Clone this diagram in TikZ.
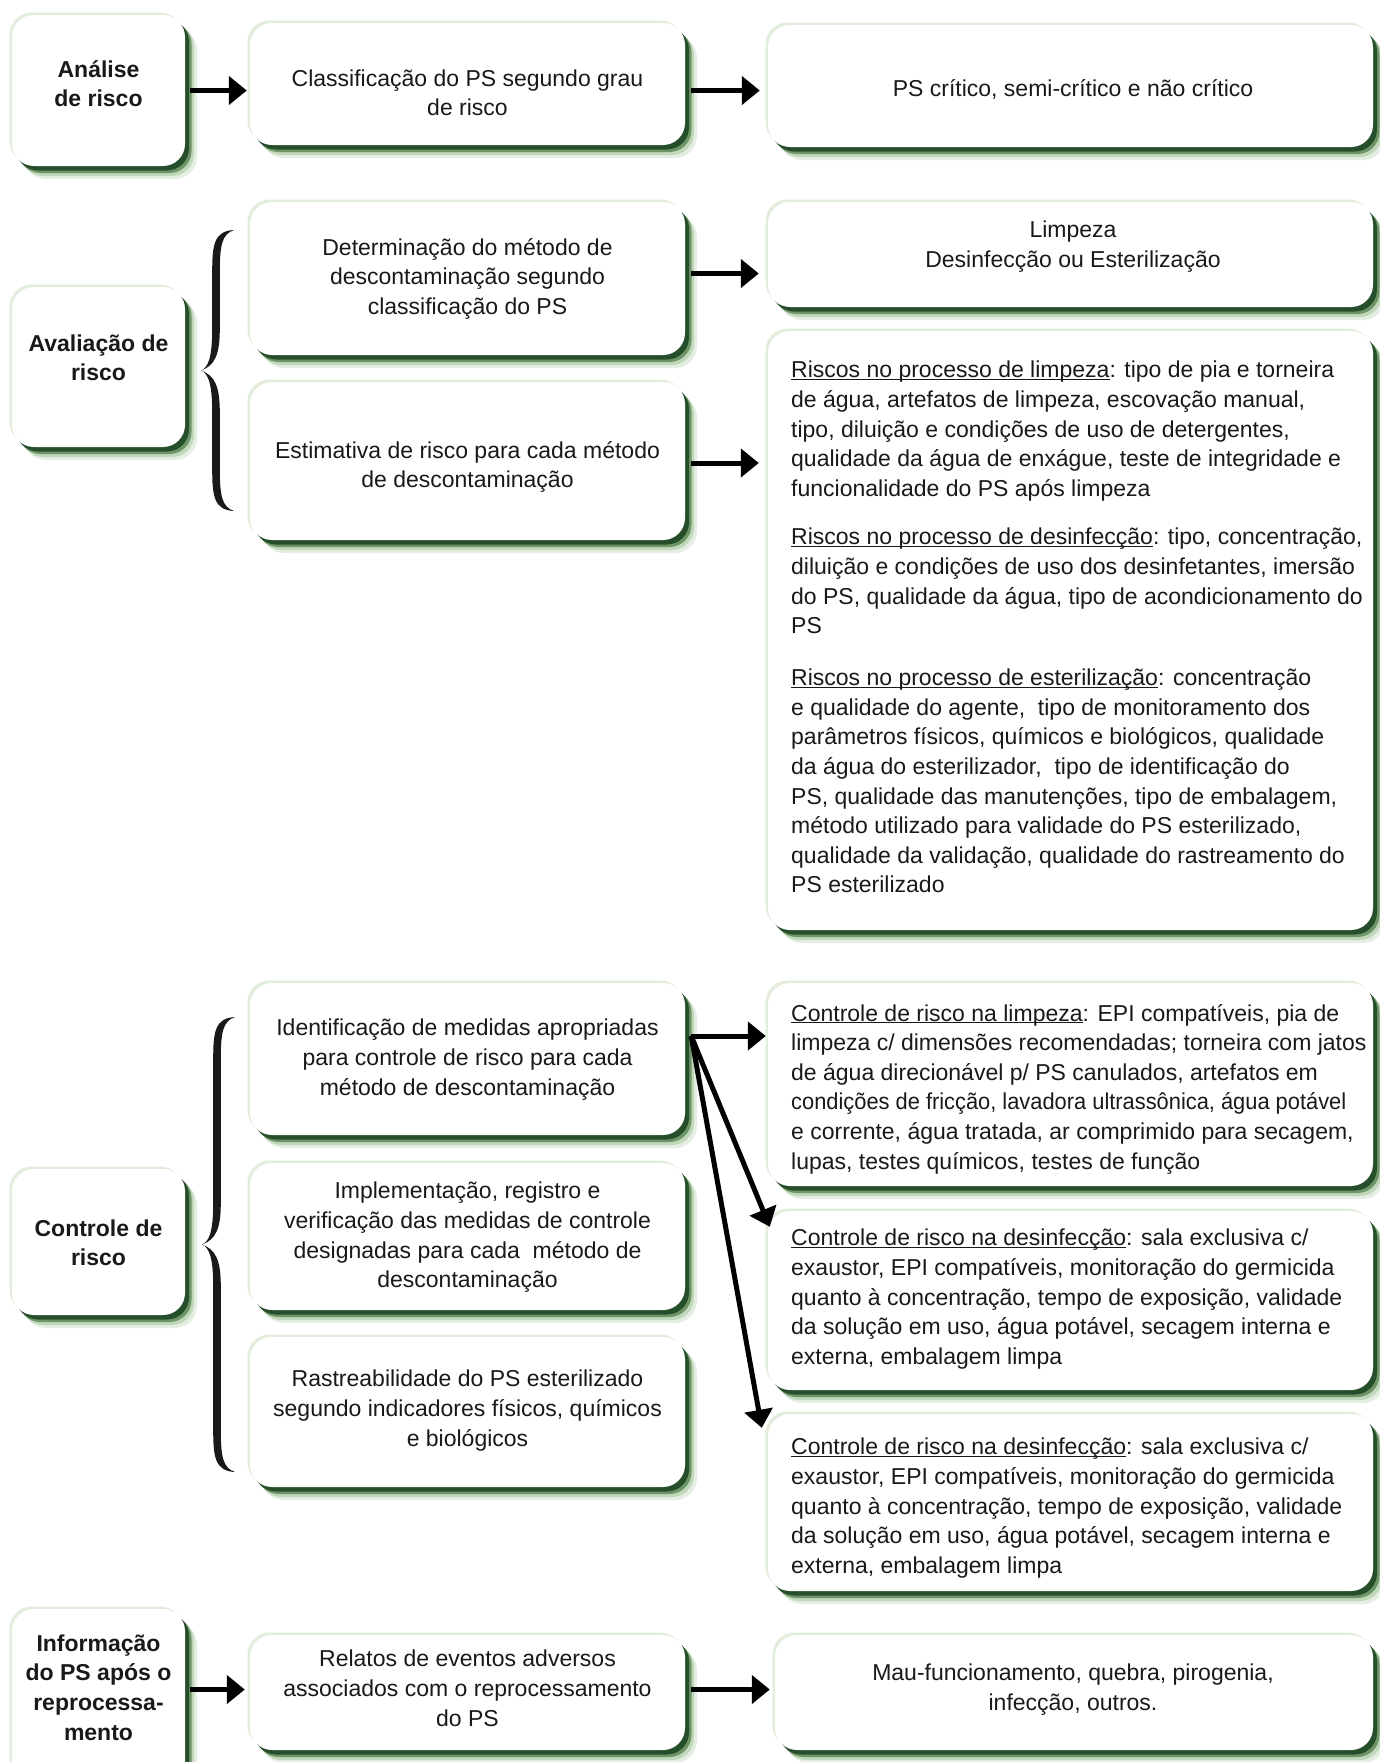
\documentclass[tikz,border=0pt]{standalone}
\usepackage{fontspec}
\setmainfont{Liberation Sans}
\usetikzlibrary{arrows.meta,shadows}
\definecolor{shdark}{RGB}{38,78,42}
\definecolor{shmid}{RGB}{95,138,90}
\definecolor{shlight}{RGB}{170,200,160}
\definecolor{shfaint}{RGB}{226,237,220}
\definecolor{ink}{RGB}{25,25,25}
\newcommand\ulabel[1]{\underline{\smash{#1}}}
\newcommand\cardnode[5]{\node[card, minimum width={#4-#2}, minimum height={#5-#3}] (#1) at ({(#2+#4)/2},{(#3+#5)/2}) {};}
\newcommand\bracefill[3]{%
 \pgfmathsetmacro\bmid{(#2+#3)/2}%
 \fill[ink] ({#1+18},#2) .. controls ({#1-2},{#2+1}) and ({#1-3.8},{#2+15}) .. ({#1-3.8},{#2+42})
   -- ({#1-3.8},{\bmid-42}) .. controls ({#1-3.8},{\bmid-12}) and ({#1-8},{\bmid-3}) .. ({#1-15},\bmid)
   .. controls ({#1-8},{\bmid+3}) and ({#1-3.8},{\bmid+12}) .. ({#1-3.8},{\bmid+42})
   -- ({#1-3.8},{#3-42}) .. controls ({#1-3.8},{#3-15}) and ({#1-2},{#3-1}) .. ({#1+18},#3)
   .. controls ({#1+6},{#3-4}) and ({#1+3.8},{#3-15}) .. ({#1+3.8},{#3-42})
   -- ({#1+3.8},{\bmid+42}) .. controls ({#1+3.8},{\bmid+16}) and ({#1-1},{\bmid+5}) .. ({#1-15},\bmid)
   .. controls ({#1-1},{\bmid-5}) and ({#1+3.8},{\bmid-16}) .. ({#1+3.8},{\bmid-42})
   -- ({#1+3.8},{#2+42}) .. controls ({#1+3.8},{#2+15}) and ({#1+6},{#2+4}) .. ({#1+18},#2) -- cycle;}
\begin{document}
\begin{tikzpicture}[x=1pt,y=-1pt,
  card/.style={rectangle, rounded corners=22pt, fill=white, inner sep=0pt, draw=none,
    general shadow={fill=shfaint, shadow xshift=-2.5pt, shadow yshift=2.5pt},
    general shadow={fill=shlight, opacity=0.3, shadow xshift=12pt, shadow yshift=-13pt},
    general shadow={fill=shlight, opacity=0.6, shadow xshift=9pt, shadow yshift=-10pt},
    general shadow={fill=shmid, opacity=0.85, shadow xshift=6.5pt, shadow yshift=-7pt},
    general shadow={fill=shdark, shadow xshift=4pt, shadow yshift=-4.5pt}},
  txt/.style={inner sep=0pt, align=center, anchor=north, text=ink,
    font=\fontsize{23}{29.6}\selectfont,
    execute at begin node=\strut, execute at end node=\strut},
  btxt/.style={txt, font=\bfseries\fontsize{23}{29.6}\selectfont},
  ltxt/.style={txt, align=left, anchor=north west},
  arr/.style={line width=5pt, -{Triangle[length=18pt,width=28pt]}}]
\path[use as bounding box] (0,0) rectangle (1380,1762);
\clip (0,0) rectangle (1380,1762);
\fill[white] (0,0) rectangle (1380,1762);

% ---- row 1
\cardnode{A1}{12}{15}{185}{166}
\cardnode{B1}{250}{23}{685}{145}
\cardnode{C1}{768}{25}{1373}{147}
\node[btxt] (tA1) at (98.5,60) {Análise\\de risco};
\node[txt] (tB1) at (467.5,69.3) {Classificação do PS segundo grau\\de risco};
\node[txt] (tC1) at (1073,76) {PS crítico, semi-crítico e não crítico};
\draw[arr] ([xshift=5pt]A1.east) -- ([xshift=-3pt]A1.east -| B1.west);
\draw[arr] ([xshift=6pt]B1.east |- A1.east) -- ([xshift=-8pt]A1.east -| C1.west);

% ---- row 2
\cardnode{A2}{12}{287}{185}{447}
\cardnode{B2a}{250}{202}{685}{355}
\cardnode{B2b}{250}{382}{685}{540}
\cardnode{C2a}{768}{202}{1373}{307}
\cardnode{C2b}{768}{331}{1373}{930}
\node[btxt] (tA2) at (98.5,334.5) {Avaliação de\\risco};
\node[txt] (tB2a) at (467.5,238) {Determinação do método de\\descontaminação segundo\\classificação do PS};
\node[txt] (tB2b) at (467.5,441) {Estimativa de risco para cada método\\de descontaminação};
\node[txt] (tC2a) at (1073,221) {Limpeza\\Desinfecção ou Esterilização};
\node[ltxt] (tC2b1) at (791,361) {\ulabel{Riscos no processo de limpeza}: tipo de pia e torneira\\de água, artefatos de limpeza, escovação manual,\\tipo, diluição e condições de uso de detergentes,\\qualidade da água de enxágue, teste de integridade e\\funcionalidade do PS após limpeza};
\node[ltxt] (tC2b2) at (791,528) {\ulabel{Riscos no processo de desinfecção}: tipo, concentração,\\diluição e condições de uso dos desinfetantes, imersão\\do PS, qualidade da água, tipo de acondicionamento do\\PS};
\node[ltxt] (tC2b3) at (791,669) {\ulabel{Riscos no processo de esterilização}: concentração\\e qualidade do agente,\ \ tipo de monitoramento dos\\parâmetros físicos, químicos e biológicos, qualidade\\da água do esterilizador,\ \ tipo de identificação do\\PS, qualidade das manutenções, tipo de embalagem,\\método utilizado para validade do PS esterilizado,\\qualidade da validação, qualidade do rastreamento do\\PS esterilizado};
\bracefill{216}{230}{511}
\draw[arr] ([xshift=6pt,yshift=5pt]B2a.east) -- ([xshift=-9pt,yshift=5pt]B2a.east -| C2a.west);
\draw[arr] ([xshift=6pt,yshift=-2pt]B2b.east) -- ([xshift=-9pt,yshift=-2pt]B2b.east -| C2b.west);

% ---- row 3
\cardnode{A3}{12}{1169}{185}{1315}
\cardnode{B3a}{250}{983}{685}{1135}
\cardnode{B3b}{250}{1163}{685}{1310}
\cardnode{B3c}{250}{1337}{685}{1487}
\cardnode{C3a}{768}{983}{1373}{1186}
\cardnode{C3b}{768}{1211}{1373}{1390}
\cardnode{C3c}{768}{1414}{1373}{1591}
\node[btxt] (tA3) at (98.5,1219.5) {Controle de\\risco};
\node[txt] (tB3a) at (467.5,1019) {Identificação de medidas apropriadas\\para controle de risco para cada\\método de descontaminação};
\node[txt] (tB3b) at (467.5,1182) {Implementação, registro e\\verificação das medidas de controle\\designadas para cada\ \ método de\\descontaminação};
\node[txt] (tB3c) at (467.5,1370) {Rastreabilidade do PS esterilizado\\segundo indicadores físicos, químicos\\e biológicos};
\node[ltxt] (tC3a) at (791,1004) {\ulabel{Controle de risco na limpeza}: EPI compatíveis, pia de\\limpeza c/ dimensões recomendadas; torneira com jatos\\de água direcionável p/ PS canulados, artefatos em\\\scalebox{0.95}[1]{condições de fricção, lavadora ultrassônica, água potável}\\e corrente, água tratada, ar comprimido para secagem,\\lupas, testes químicos, testes de função};
\node[ltxt] (tC3b) at (791,1229) {\ulabel{Controle de risco na desinfecção}: sala exclusiva c/\\exaustor, EPI compatíveis, monitoração do germicida\\quanto à concentração, tempo de exposição, validade\\da solução em uso, água potável, secagem interna e\\externa, embalagem limpa};
\node[ltxt] (tC3c) at (791,1438) {\ulabel{Controle de risco na desinfecção}: sala exclusiva c/\\exaustor, EPI compatíveis, monitoração do germicida\\quanto à concentração, tempo de exposição, validade\\da solução em uso, água potável, secagem interna e\\externa, embalagem limpa};
\bracefill{217}{1017}{1472}
\coordinate (fork) at ([xshift=6pt,yshift=23pt]B3a.east);
\draw[arr] (fork) -- ([xshift=-2pt]fork -| C3a.west);
\draw[arr] (fork) -- ([xshift=2pt,yshift=-16pt]C3b.north west);
\draw[arr] (fork) -- ([xshift=-6pt,yshift=-14pt]C3c.north west);

% ---- row 4
\cardnode{A4}{12}{1609}{185}{1790}
\cardnode{B4}{250}{1635}{685}{1750}
\cardnode{C4}{775}{1635}{1373}{1750}
\node[btxt] (tA4) at (98.5,1634.5) {Informação\\do PS após o\\reprocessa-\\mento};
\node[txt] (tB4) at (467.5,1650) {Relatos de eventos adversos\\associados com o reprocessamento\\do PS};
\node[txt] (tC4) at (1073,1664) {Mau-funcionamento, quebra, pirogenia,\\infecção, outros.};
\draw[arr] ([xshift=5pt,yshift=10pt]A4.east) -- ([xshift=-5pt,yshift=10pt]A4.east -| B4.west);
\draw[arr] ([xshift=6pt,yshift=3pt]B4.east) -- ([xshift=-5pt,yshift=3pt]B4.east -| C4.west);
\end{tikzpicture}
\end{document}
